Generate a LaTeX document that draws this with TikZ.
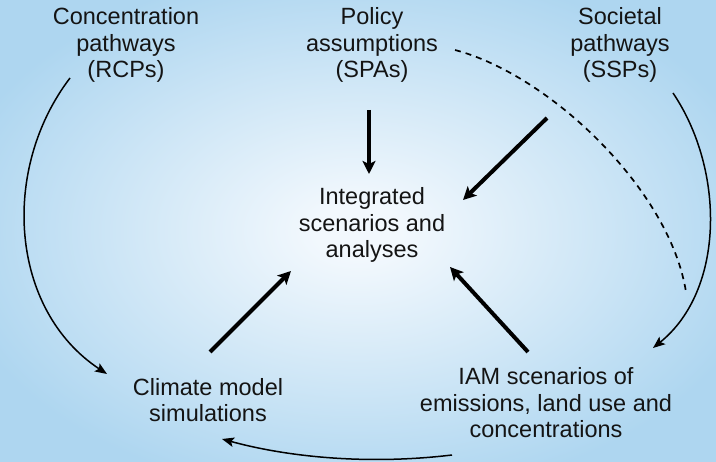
\documentclass[tikz,border=0pt]{standalone}
\usepackage{fontspec}
\setmainfont{Liberation Sans}
\usetikzlibrary{arrows.meta}
\definecolor{glowin}{HTML}{F2F8FD}
\definecolor{glowout}{HTML}{AED6F0}
\definecolor{ink}{HTML}{141414}
\pgfdeclareradialshading{skyglow}{\pgfpoint{0bp}{0bp}}{%
  color(0bp)=(glowin); color(3bp)=(glowin); color(29bp)=(glowout); color(50bp)=(glowout)}
\begin{document}
\begin{tikzpicture}[x=1pt,y=-1pt,
  label/.style={align=center,text=ink,inner sep=0pt,
    font=\fontsize{23.5}{26.5}\selectfont},
  mainflow/.style={line width=4pt,draw=black,
    -{Stealth[length=13pt,width=13pt,inset=3pt]}},
  sideflow/.style={line width=1.5pt,draw=black,
    -{Stealth[length=12pt,width=9.5pt,inset=2.5pt]}},
  hint/.style={line width=1.7pt,draw=black,dash pattern=on 6pt off 5pt}]
  % background glow
  \shade[shading=skyglow] (0,0) rectangle (716,462);
  \useasboundingbox (0,0) rectangle (716,462);

  % text blocks
  \node[label] (rcp) at (126,45) {Concentration\\pathways\\(RCPs)};
  \node[label] (spa) at (372,45) {Policy\\assumptions\\(SPAs)};
  \node[label] (ssp) at (620,45) {Societal\\pathways\\(SSPs)};
  \node[label] (isa) at (372,225) {Integrated\\scenarios and\\analyses};
  \node[label] (cms) at (208,400) {Climate model\\simulations};
  \node[label] (iam) at (546,403) {IAM scenarios of\\emissions, land use and\\concentrations};

  % connector end points
  \coordinate (spaOut) at (369,110);
  \coordinate (isaTop) at (369,174);
  \coordinate (sspOut) at (547,118);
  \coordinate (isaNE) at (463,200);
  \coordinate (cmsOut) at (210,352);
  \coordinate (isaSW) at (291,271);
  \coordinate (iamOut) at (528,352);
  \coordinate (isaSE) at (450,267);
  \coordinate (rcpOut) at (70,78);
  \coordinate (cmsIn) at (107,374);
  \coordinate (sspSide) at (673,93);
  \coordinate (iamIn) at (653,348);
  \coordinate (iamLow) at (452,455);
  \coordinate (cmsLow) at (222,439);
  \coordinate (spaRight) at (455,50);
  \coordinate (hintEnd) at (686,292);

  % thick flows into the integrated analyses
  \draw[mainflow] (spaOut) -- (isaTop);
  \draw[mainflow] (sspOut) -- (isaNE);
  \draw[mainflow] (cmsOut) -- (isaSW);
  \draw[mainflow] (iamOut) -- (isaSE);

  % outer loop
  \draw[sideflow] (rcpOut) .. controls (0,170) and (10,310) .. (cmsIn);
  \draw[sideflow] (sspSide) .. controls (725,170) and (725,290) .. (iamIn);
  \draw[sideflow] (iamLow) .. controls (360,466) and (280,455) .. (cmsLow);

  % policy link to societal pathways
  \draw[hint] (spaRight) .. controls (550,75) and (670,190) .. (hintEnd);
\end{tikzpicture}
\end{document}
